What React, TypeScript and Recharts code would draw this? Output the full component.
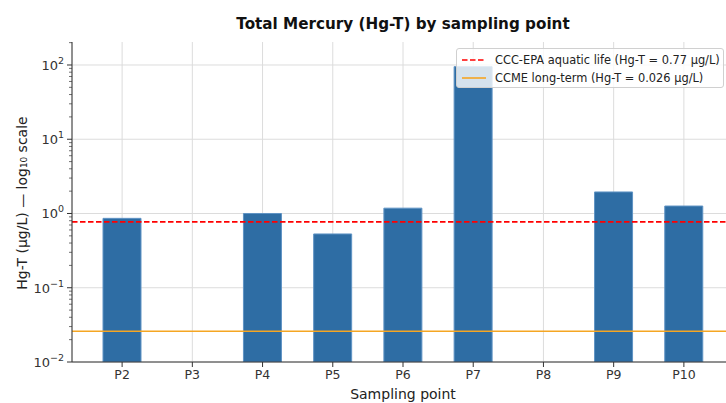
import React from "react";
import {
  BarChart,
  Bar,
  XAxis,
  YAxis,
  CartesianGrid,
  ReferenceLine,
} from "recharts";

const POINTS = ["P2", "P3", "P4", "P5", "P6", "P7", "P8", "P9", "P10"];
const HG_T = [0.86, null, 1.0, 0.53, 1.18, 95, null, 1.95, 1.26];

const EPA_LIMIT = 0.77;
const CCME_LIMIT = 0.026;

const Y_DOMAIN = [0.01, 204];
const MAJOR_TICKS = [0.01, 0.1, 1, 10, 100];
const Y_TICKS = [
  0.01, 0.02, 0.03, 0.04, 0.05, 0.06, 0.07, 0.08, 0.09,
  0.1, 0.2, 0.3, 0.4, 0.5, 0.6, 0.7, 0.8, 0.9,
  1, 2, 3, 4, 5, 6, 7, 8, 9,
  10, 20, 30, 40, 50, 60, 70, 80, 90,
  100, 200,
];

const FONT = "'DejaVu Sans', sans-serif";
const INK = "#333";

const chartData = POINTS.map((p, i) => ({ point: p, value: HG_T[i] }));

// log position of the decade grid lines inside the plot area
const logY = (v: number, top: number, h: number) => {
  const lo = Math.log10(Y_DOMAIN[0]);
  const hi = Math.log10(Y_DOMAIN[1]);
  return top + h * (1 - (Math.log10(v) - lo) / (hi - lo));
};

const YTick = ({ x, y, payload }: any) => {
  const v = payload.value;
  const lg = Math.log10(v);
  const exp = Math.round(lg);
  const major = Math.abs(lg - exp) < 1e-6;
  return (
    <g>
      <line
        x1={x - (major ? 5 : 3)}
        x2={x}
        y1={y}
        y2={y}
        stroke={INK}
        strokeWidth={major ? 1 : 0.7}
      />
      {major && (
        <text
          x={x - 8}
          y={y}
          dy={5}
          textAnchor="end"
          fontSize={13}
          fill={INK}
          fontFamily={FONT}
        >
          10
          <tspan dy={-6} fontSize={9.5}>
            {exp < 0 ? "\u2212" + -exp : exp}
          </tspan>
        </text>
      )}
    </g>
  );
};

export default function App() {
  return (
    <div
      style={{
        position: "fixed",
        left: 0,
        top: 0,
        width: 726,
        height: 403,
        overflow: "hidden",
        background: "#fff",
        fontFamily: FONT,
      }}
    >
      <div
        style={{
          position: "absolute",
          left: 0,
          width: 806,
          top: 15,
          textAlign: "center",
          fontWeight: "bold",
          fontSize: 15.2,
          color: "#111",
        }}
      >
        Total Mercury (Hg-T) by sampling point
      </div>
      <div
        style={{
          position: "absolute",
          left: 22,
          top: 203,
          transform: "translate(-50%, -50%) rotate(-90deg)",
          whiteSpace: "nowrap",
          fontSize: 14,
          color: "#222",
        }}
      >
        Hg-T (µg/L) — log₁₀ scale
      </div>
      <div
        style={{
          position: "absolute",
          left: 0,
          width: 806,
          top: 386,
          textAlign: "center",
          fontSize: 14,
          color: "#222",
        }}
      >
        Sampling point
      </div>

      <BarChart
        width={742}
        height={403}
        data={chartData}
        margin={{ top: 42, right: 8, left: 0, bottom: 0 }}
        barSize={38}
      >
        <CartesianGrid
          stroke="#dcdcdc"
          strokeWidth={1}
          horizontalCoordinatesGenerator={({ offset }: any) =>
            MAJOR_TICKS.map((v) => logY(v, offset.top, offset.height))
          }
        />
        <XAxis
          dataKey="point"
          padding={{ left: 15, right: 15 }}
          height={41}
          tickSize={5}
          tickMargin={3}
          stroke={INK}
          tick={{ fill: INK, fontSize: 12.5, fontFamily: FONT }}
          axisLine={{ stroke: INK }}
        />
        <YAxis
          type="number"
          scale="log"
          domain={Y_DOMAIN}
          allowDataOverflow
          ticks={Y_TICKS}
          interval={0}
          width={72}
          tickSize={0}
          tickMargin={0}
          tickLine={false}
          tick={<YTick />}
          axisLine={{ stroke: INK }}
        />
        <Bar
          dataKey="value"
          fill="#2e6da4"
          stroke="#5f93c4"
          strokeWidth={1}
          isAnimationActive={false}
        />
        <ReferenceLine
          y={EPA_LIMIT}
          stroke="#ff0000"
          strokeWidth={1.6}
          strokeDasharray="5.5 2.5"
        />
        <ReferenceLine y={CCME_LIMIT} stroke="#f5a623" strokeWidth={1.6} />
      </BarChart>

      <div
        style={{
          position: "absolute",
          left: 456,
          top: 48,
          width: 268,
          height: 40,
          boxSizing: "border-box",
          border: "1px solid #d0d0d0",
          borderRadius: 3,
          background: "rgba(255,255,255,0.8)",
          fontSize: 11.4,
          color: "#222",
        }}
      >
        {[
          { label: "CCC-EPA aquatic life (Hg-T = 0.77 µg/L)", color: "#ff0000", dash: true },
          { label: "CCME long-term (Hg-T = 0.026 µg/L)", color: "#f5a623", dash: false },
        ].map((item, i) => (
          <div
            key={item.label}
            style={{
              position: "absolute",
              left: 5,
              top: 2 + i * 18,
              height: 18,
              display: "flex",
              alignItems: "center",
              whiteSpace: "nowrap",
            }}
          >
            <svg width={24} height={6} style={{ marginRight: 9 }}>
              <line
                x1={0}
                x2={24}
                y1={3}
                y2={3}
                stroke={item.color}
                strokeWidth={1.6}
                strokeDasharray={item.dash ? "5.5 2.5" : undefined}
              />
            </svg>
            {item.label}
          </div>
        ))}
      </div>
    </div>
  );
}
